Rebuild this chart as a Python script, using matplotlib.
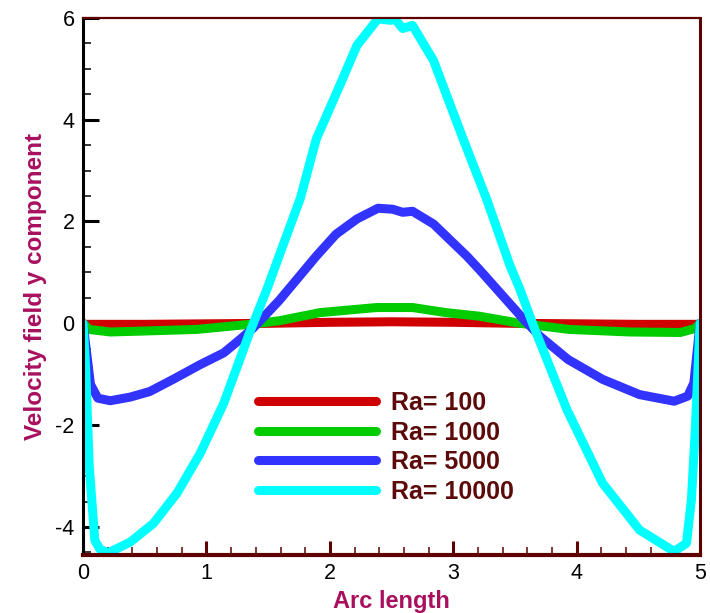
import matplotlib
matplotlib.use("Agg")
import matplotlib.pyplot as plt
from matplotlib.ticker import MultipleLocator

plt.rcParams['font.family'] = ['Liberation Sans', 'DejaVu Sans']
plt.rcParams['axes.unicode_minus'] = False

# Ra = 100
x_100 = [0, 0.5, 1.0, 1.5, 2.0, 2.5, 3.0, 3.5, 4.0, 4.5, 5.0]
y_100 = [-0.02, -0.02, -0.01, 0.0, 0.02, 0.03, 0.02, 0.0, -0.01, -0.02, -0.02]

# Ra = 1000
x_1000 = [0, 0.05, 0.22, 0.51, 0.92, 1.35, 1.59, 1.92, 2.38, 2.67, 2.94,
          3.21, 3.54, 3.94, 4.43, 4.84, 4.96, 5.0]
y_1000 = [0, -0.12, -0.17, -0.15, -0.12, -0.02, 0.05, 0.21, 0.31, 0.31, 0.21,
          0.14, 0.0, -0.12, -0.17, -0.18, -0.10, 0]

# Ra = 5000
x_5000 = [0, 0.06, 0.12, 0.22, 0.38, 0.54, 0.73, 0.95, 1.14, 1.27, 1.38,
          1.59, 1.89, 2.05, 2.22, 2.39, 2.51, 2.59, 2.67, 2.84, 3.11, 3.21,
          3.57, 3.70, 3.93, 4.21, 4.51, 4.79, 4.90, 4.95, 5.0]
y_5000 = [0, -1.2, -1.47, -1.52, -1.45, -1.34, -1.1, -0.81, -0.58, -0.32, -0.09,
          0.45, 1.32, 1.75, 2.05, 2.26, 2.24, 2.18, 2.20, 1.95, 1.32, 1.06,
          0.08, -0.25, -0.71, -1.10, -1.40, -1.53, -1.43, -1.17, 0]

# Ra = 10000
x_10000 = [0, 0.02, 0.05, 0.095, 0.135, 0.2, 0.38, 0.57, 0.76, 0.95, 1.14,
           1.27, 1.35, 1.49, 1.62, 1.76, 1.89, 2.08, 2.22, 2.39, 2.49, 2.53,
           2.59, 2.67, 2.84, 3.08, 3.27, 3.46, 3.54, 3.65, 3.92, 4.21, 4.51,
           4.79, 4.89, 4.93, 4.96, 5.0]
y_10000 = [0, -0.84, -2.8, -4.26, -4.43, -4.51, -4.3, -3.93, -3.34, -2.55, -1.57,
           -0.71, -0.18, 0.67, 1.53, 2.45, 3.62, 4.67, 5.46, 5.98, 5.95, 5.97,
           5.79, 5.85, 5.16, 3.62, 2.44, 1.13, 0.67, -0.05, -1.69, -3.14, -4.06,
           -4.48, -4.32, -3.46, -2.15, 0]

labels = ['Ra= 100', 'Ra= 1000', 'Ra= 5000', 'Ra= 10000']
colors = ['#d00000', '#00cc00', '#3333ff', '#00ffff']

maroon = '#5e0000'
label_col = '#a8105e'

fig = plt.figure(figsize=(7.1, 6.13), dpi=100)
ax = fig.add_axes([0.117, 0.0946, 0.869, 0.8764])

series = [(x_100, y_100), (x_1000, y_1000), (x_5000, y_5000), (x_10000, y_10000)]
for (xs, ys), lab, c in zip(series, labels, colors):
    ax.plot(xs, ys, color=c, lw=6.5, label=lab, solid_capstyle='round',
            solid_joinstyle='round')

ax.set_xlim(0, 5)
ax.set_ylim(-4.55, 6)
ax.xaxis.set_major_locator(MultipleLocator(1))
ax.xaxis.set_minor_locator(MultipleLocator(0.2))
ax.yaxis.set_major_locator(MultipleLocator(2))
ax.yaxis.set_minor_locator(MultipleLocator(0.5))

ax.tick_params(axis='both', which='both', direction='in', top=False, right=False,
               labelsize=15.5, labelcolor='black')
ax.tick_params(axis='y', which='major', length=11.5, width=2.2, color='black', pad=6)
ax.tick_params(axis='y', which='minor', length=6, width=1.1, color='black')
ax.tick_params(axis='x', which='major', length=10, width=2.2, color=maroon, pad=6)
ax.tick_params(axis='x', which='minor', length=5.5, width=1.1, color=maroon)

ax.spines['left'].set_color('black')
ax.spines['left'].set_linewidth(2.2)
ax.spines['bottom'].set_color(maroon)
ax.spines['bottom'].set_linewidth(3)
ax.spines['top'].set_color(maroon)
ax.spines['top'].set_linewidth(1.6)
ax.spines['right'].set_color(maroon)
ax.spines['right'].set_linewidth(2.2)

ax.set_xlabel('Arc length', fontsize=17, fontweight='bold', color=label_col, labelpad=4)
ax.set_ylabel('Velocity field y component', fontsize=17.5, fontweight='bold',
              color=label_col, labelpad=6)

leg = ax.legend(loc='upper left', bbox_to_anchor=(0.284, 0.305), frameon=False,
                prop={'size': 18, 'weight': 'bold'}, labelcolor='#5c0a0a',
                handlelength=4.7, handletextpad=0.6, labelspacing=0.22,
                borderpad=0, borderaxespad=0)

fig.savefig('out.png', dpi=100)
